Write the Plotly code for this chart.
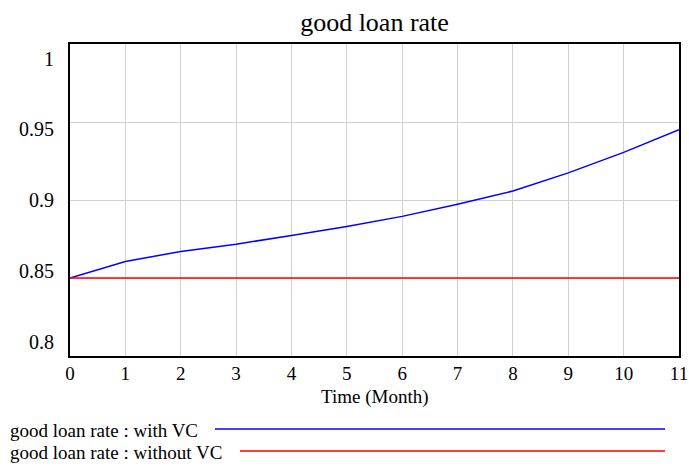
import plotly.graph_objects as go

months = list(range(12))
with_vc = [0.85, 0.8606, 0.867, 0.8717, 0.8772, 0.883, 0.8895, 0.8973, 0.9058, 0.9174, 0.9305, 0.9451]
without_vc = [0.85] * 12
series_names = ["good loan rate : with VC", "good loan rate : without VC"]
series_colors = ["#0000ff", "#ff0000"]
y_tick_text = ["0.8", "0.85", "0.9", "0.95", "1"]
# Vensim spreads its y labels evenly, a little inside the grid lines
y_label_vals = [0.8087, 0.8542, 0.8997, 0.9452, 0.9907]

W, H = 689, 467
L, R, T, B = 70, 10, 44, 111
FONT = "Liberation Serif, Times New Roman, serif"

fig = go.Figure()
for name, ys, col in zip(series_names, [with_vc, without_vc], series_colors):
    fig.add_trace(go.Scatter(x=months, y=ys, mode="lines", name=name,
                             line=dict(color=col, width=1.5), showlegend=False))
fig.add_trace(go.Scatter(x=[None], y=[None], yaxis="y2", showlegend=False, hoverinfo="skip"))

fig.update_layout(
    width=W, height=H,
    margin=dict(l=L, r=R, t=T, b=B, autoexpand=False),
    paper_bgcolor="white", plot_bgcolor="white",
    font=dict(family=FONT, color="black", size=20),
    title=dict(text="good loan rate", x=(L + (W - L - R) / 2) / W, xanchor="center",
               y=1 - 22 / H, yanchor="middle",
               font=dict(family=FONT, size=26, color="black")),
    yaxis2=dict(overlaying="y", side="left", range=[0.8, 1], tickmode="array",
                tickvals=y_label_vals, ticktext=y_tick_text, showgrid=False,
                zeroline=False, showline=False, ticks="", ticklabelstandoff=15,
                tickfont=dict(family=FONT, size=20, color="black")),
)
fig.update_xaxes(range=[0, 11], tickmode="linear", tick0=0, dtick=1,
                 showgrid=True, gridcolor="#d0d0d0", gridwidth=1,
                 showline=True, linecolor="black", linewidth=2, mirror=True,
                 zeroline=False, ticks="", tickfont=dict(size=19), ticklabelstandoff=-1,
                 ticklabeloverflow="allow")
fig.update_yaxes(selector=dict(overlaying=None), range=[0.8, 1], tickmode="linear", tick0=0.8, dtick=0.05,
                 showgrid=True, gridcolor="#d0d0d0", gridwidth=1,
                 showline=True, linecolor="black", linewidth=2, mirror=True,
                 zeroline=False, ticks="", showticklabels=False)

def px(xs):
    return (xs - L) / (W - L - R)

def py(ys):
    return (H - B - ys) / (H - T - B)

# axis title
fig.add_annotation(xref="paper", yref="paper", x=px(375), y=py(397), text="Time (Month)",
                   showarrow=False, xanchor="center", yanchor="middle",
                   font=dict(family=FONT, size=19, color="black"))

# legend drawn Vensim-style below the chart
legend_rows = [(430, 215), (452, 240)]
for (yc, x0), name, col in zip(legend_rows, series_names, series_colors):
    fig.add_annotation(xref="paper", yref="paper", x=px(8), y=py(yc),
                       text=name, showarrow=False, xanchor="left", yanchor="middle",
                       font=dict(family=FONT, size=19, color="black"))
    fig.add_shape(type="line", xref="paper", yref="paper",
                  x0=px(x0), x1=px(665), y0=py(yc - 1), y1=py(yc - 1),
                  line=dict(color=col, width=1.5))

fig.write_html("out.html", config={"displayModeBar": False},
               post_script="document.body.style.margin='0';document.body.style.overflow='hidden';")
